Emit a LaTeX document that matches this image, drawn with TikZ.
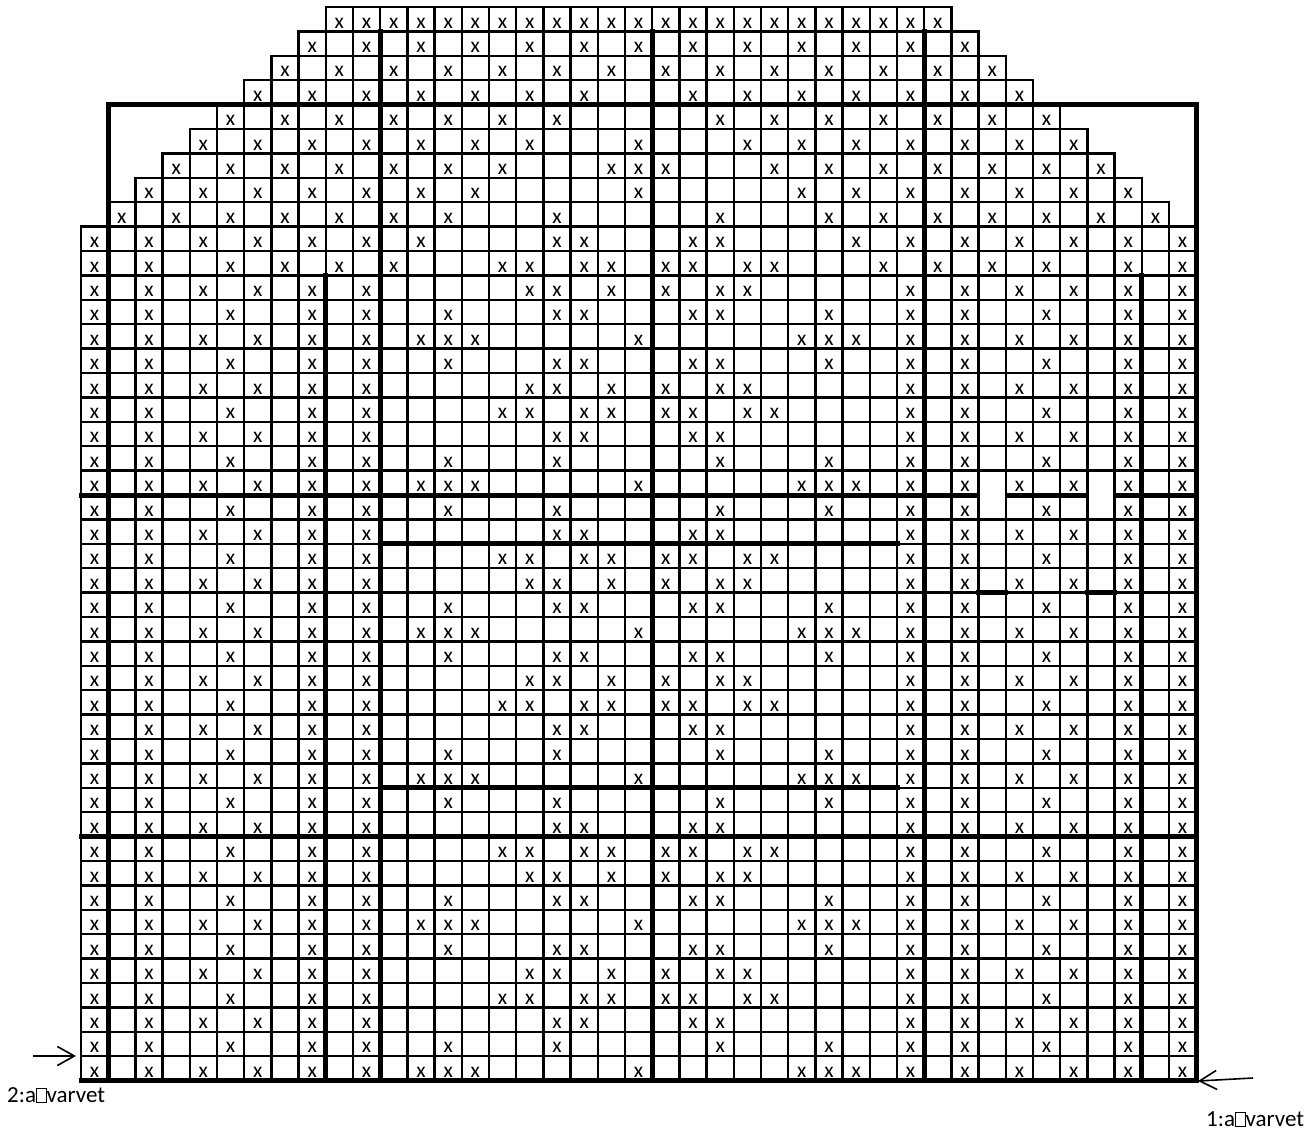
\documentclass[tikz,border=0pt]{standalone}
\usepackage{fontspec}
\setmainfont{Carlito}
\usetikzlibrary{arrows.meta}
\newcommand\tofubox{{\setlength{\fboxsep}{0pt}\setlength{\fboxrule}{0.8pt}\fbox{\rule{0pt}{13pt}\hspace{9pt}}}}
\def\gx#1{81+27.2*(#1)}
\def\gy#1{7+24.4*(#1)}
\begin{document}
\begin{tikzpicture}[x=1pt,y=-1pt,
  gridline/.style={line width=2.4pt,line cap=rect},
  heavy/.style={line width=5pt,line cap=rect},
  xm/.style={font=\fontsize{21.5}{21.5}\selectfont,inner sep=0pt,anchor=base},
  lbl/.style={font=\fontsize{23}{23}\selectfont,inner sep=0pt,anchor=base west},
  arr/.style={line width=1.6pt,-{Straight Barb[length=17pt,width=19pt]}}]
\useasboundingbox (0,0) rectangle (1315,1133);
% thin grid, row by row (stepped top)
\foreach \r in {1,...,44}{
  \pgfmathtruncatemacro\lo{\r<10 ? 11-\r : 1}
  \pgfmathtruncatemacro\hi{\r<10 ? 31+\r : 41}
  \pgfmathtruncatemacro\lm{\lo-1}
  \draw[gridline] ({\gx{\lm}},{\gy{\r-1}}) -- ({\gx{\hi}},{\gy{\r-1}});
  \foreach \k in {\lm,...,\hi}
    \draw[gridline] ({\gx{\k}},{\gy{\r-1}}) -- ({\gx{\k}},{\gy{\r}});
}
% heavy lines
\draw[heavy] ({\gx{1}},{\gy{44}}) -- ({\gx{1}},{\gy{4}}) -- ({\gx{41}},{\gy{4}}) -- ({\gx{41}},{\gy{44}});
\foreach \k in {11,21,31}
  \draw[heavy] ({\gx{\k}},{\gy{1}}) -- ({\gx{\k}},{\gy{44}});
\foreach \k in {9,39}
  \draw[heavy] ({\gx{\k}},{\gy{11}}) -- ({\gx{\k}},{\gy{44}});
\draw[heavy] ({\gx{0}},{\gy{20}}) -- ({\gx{41}},{\gy{20}});
\draw[white,line width=6.5pt] ({\gx{33}+1.3},{\gy{20}}) -- ({\gx{34}-1.3},{\gy{20}});
\draw[white,line width=6.5pt] ({\gx{37}+1.3},{\gy{20}}) -- ({\gx{38}-1.3},{\gy{20}});
\draw[heavy] ({\gx{11}},{\gy{22}}) -- ({\gx{30}},{\gy{22}});
\draw[heavy] ({\gx{33}},{\gy{24}}) -- ({\gx{34}},{\gy{24}});
\draw[heavy] ({\gx{37}},{\gy{24}}) -- ({\gx{38}},{\gy{24}});
\draw[heavy] ({\gx{11}},{\gy{32}}) -- ({\gx{30}},{\gy{32}});
\draw[heavy] ({\gx{0}},{\gy{34}}) -- ({\gx{41}},{\gy{34}});
\draw[heavy] ({\gx{0}},{\gy{44}}) -- ({\gx{41}},{\gy{44}});
% marks, top rows
\foreach \r/\cl in {
  1/{10,11,...,32},
  2/{9,11,...,33},
  3/{8,10,...,34},
  4/{7,9,11,13,15,17,19,23,25,27,29,31,33,35},
  5/{6,8,10,12,14,16,18,24,26,28,30,32,34,36},
  6/{5,7,9,11,13,15,17,21,25,27,29,31,33,35,37},
  7/{4,6,8,10,12,14,16,20,21,22,26,28,30,32,34,36,38},
  8/{3,5,7,9,11,13,15,21,27,29,31,33,35,37,39},
  9/{2,4,6,8,10,12,14,18,24,28,30,32,34,36,38,40},
  10/{1,3,5,7,9,11,13,18,19,23,24,29,31,33,35,37,39,41},
  11/{1,3,6,8,10,12,16,17,19,20,22,23,25,26,30,32,34,36,39,41}}{
  \foreach \c in \cl
    \node[xm] (x-\r-\c) at ({\gx{\c-0.5}},{\gy{\r}-3.3}) {x};
}
% marks, repeating body
\foreach \r in {12,...,44}{
  \pgfmathtruncatemacro\idx{mod(\r-12,12)}
  \pgfmathtruncatemacro\rodd{mod(\r,2)}
  \ifcase\idx \def\mot{17,18,20,22,24,25}%
  \or \def\mot{14,18,19,23,24,28}%
  \or \def\mot{13,14,15,21,27,28,29}%
  \or \def\mot{14,18,19,23,24,28}%
  \or \def\mot{17,18,20,22,24,25}%
  \or \def\mot{16,17,19,20,22,23,25,26}%
  \or \def\mot{18,19,23,24}%
  \or \def\mot{14,18,24,28}%
  \or \def\mot{13,14,15,21,27,28,29}%
  \or \def\mot{14,18,24,28}%
  \or \def\mot{18,19,23,24}%
  \or \def\mot{16,17,19,20,22,23,25,26}%
  \fi
  \ifnum\rodd=0 \def\side{1,3,5,7,9,11,31,33,35,37,39,41}\else \def\side{1,3,6,9,11,31,33,36,39,41}\fi
  \foreach \c in \mot
    \node[xm] (x-\r-\c) at ({\gx{\c-0.5}},{\gy{\r}-3.3}) {x};
  \foreach \c in \side
    \node[xm] (x-\r-\c) at ({\gx{\c-0.5}},{\gy{\r}-3.3}) {x};
}
% arrows and labels
\coordinate (aL0) at (33,1056);
\coordinate (aL1) at (76,1056);
\draw[arr] (aL0) -- (aL1);
\coordinate (aR0) at (1253,1078);
\coordinate (aR1) at (1198,1081);
\draw[arr] (aR0) -- (aR1);
\node[lbl] (lab2) at (7,1102) {2:a\tofubox varvet};
\node[lbl] (lab1) at (1206,1126) {1:a\tofubox varvet};
\end{tikzpicture}
\end{document}
